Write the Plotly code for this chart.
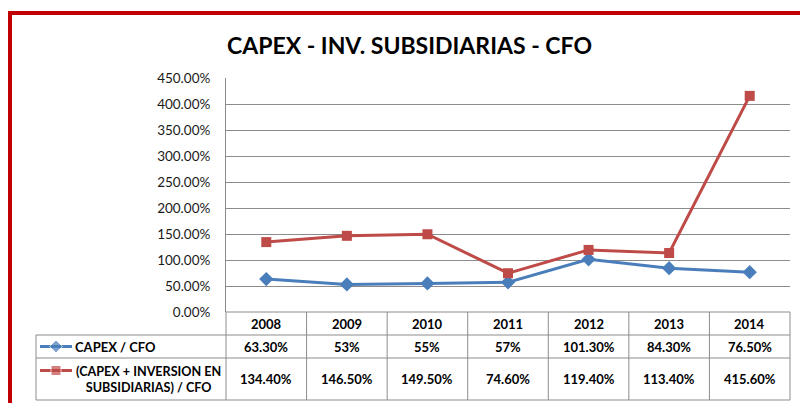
import plotly.graph_objects as go

years = ["2008", "2009", "2010", "2011", "2012", "2013", "2014"]
capex_cfo = [0.633, 0.53, 0.55, 0.57, 1.013, 0.843, 0.765]
capex_inv_cfo = [1.344, 1.465, 1.495, 0.746, 1.194, 1.134, 4.156]
capex_labels = ["63.30%", "53%", "55%", "57%", "101.30%", "84.30%", "76.50%"]
capex_inv_labels = ["134.40%", "146.50%", "149.50%", "74.60%", "119.40%", "113.40%", "415.60%"]

W, H = 800, 403
BLUE = "#4A7EBB"
RED = "#BE4B48"
GRID = "#8C8C8C"
FONT = "Lato"

# the page shows the figure 8px down and 387px tall, so map window pixels through that
TOP, HEFF = 8, 387

def px(x):
    return x / W

def py(y):
    return 1 - (y - TOP) / HEFF

# plot area in window pixels
L, R, T, B = 226, 790, 78, 312
row_top, row_mid, row_bot = 335, 358, 400

fig = go.Figure()

fig.add_trace(go.Scatter(
    x=years, y=capex_cfo, mode="lines+markers",
    line=dict(color=BLUE, width=3),
    marker=dict(symbol="diamond", size=11, color=BLUE),
    showlegend=False,
))
fig.add_trace(go.Scatter(
    x=years, y=capex_inv_cfo, mode="lines+markers",
    line=dict(color=RED, width=3),
    marker=dict(symbol="square", size=10, color=RED),
    showlegend=False,
))

# legend keys in the data table
for color, sym, yy in [(BLUE, "diamond", 346.5), (RED, "square", 370.5)]:
    fig.add_trace(go.Scatter(
        x=[0, 0.5, 1], y=[-yy] * 3, mode="lines+markers",
        line=dict(color=color, width=3),
        marker=dict(symbol=sym, size=[0, 10, 0], color=color),
        xaxis="x2", yaxis="y2", showlegend=False, hoverinfo="skip",
    ))

shapes = []
# red frame
shapes.append(dict(type="rect", xref="paper", yref="paper",
                   x0=px(10), x1=1.1, y0=-0.5, y1=py(13),
                   line=dict(color="#C00000", width=4)))
# table lines
def hline(x0, x1, y):
    shapes.append(dict(type="line", xref="paper", yref="paper",
                       x0=px(x0), x1=px(x1), y0=py(y), y1=py(y),
                       line=dict(color=GRID, width=1)))

def vline(x, y0, y1):
    shapes.append(dict(type="line", xref="paper", yref="paper",
                       x0=px(x), x1=px(x), y0=py(y0), y1=py(y1),
                       line=dict(color=GRID, width=1)))

hline(L, R, B)
for yy in [row_top, row_mid, row_bot]:
    hline(36, R, yy)
vline(36, row_top, row_bot)
colw = (R - L) / len(years)
for i in range(len(years) + 1):
    vline(L + i * colw, B, row_bot)

def note(text, x, y, xref="paper", size=13):
    return dict(text=text, x=x, y=y, xref=xref, yref="paper",
                xanchor="center", yanchor="middle", align="center",
                showarrow=False, font=dict(family=FONT, size=size, color="#000000"))

annotations = [note("<b>CAPEX - INV. SUBSIDIARIAS - CFO</b>", px(409), py(45), size=23)]
for i, yr in enumerate(years):
    for txt, yy in [(yr, 323.5), (capex_labels[i], 346.5), (capex_inv_labels[i], 379)]:
        annotations.append(note(f"<b>{txt}</b>", i, py(yy), xref="x"))
a = note("<b>CAPEX / CFO</b>", px(73), py(346.5))
a["xanchor"] = "left"
annotations.append(a)
annotations.append(note("<b>(CAPEX + INVERSION EN<br>SUBSIDIARIAS) / CFO</b>",
                        px(148), py(379), size=12.6))

fig.update_layout(
    width=W, height=H,
    margin=dict(l=0, r=0, t=0, b=0),
    paper_bgcolor="white", plot_bgcolor="white",
    font=dict(family=FONT, size=13, color="#000000"),
    xaxis=dict(domain=[px(L), px(R)], type="category", range=[-0.5, 6.5],
               showticklabels=False, showgrid=False, zeroline=False, fixedrange=True),
    yaxis=dict(domain=[py(B), py(T)], range=[0, 4.5], dtick=0.5, tickformat=".2%",
               showgrid=True, gridcolor=GRID, gridwidth=1, zeroline=False,
               showline=True, linecolor=GRID, linewidth=1,
               ticks="", ticklabelstandoff=12, tickfont=dict(size=13.5, color="#1a1a1a")),
    xaxis2=dict(domain=[px(40), px(72)], range=[0, 1], visible=False, anchor="y2"),
    yaxis2=dict(domain=[py(390), py(row_top)], range=[-390, -row_top],
                visible=False, anchor="x2"),
    shapes=shapes,
    annotations=annotations,
)

# drop the default page margin so the figure sits at the window's corner
fig.write_html("out.html", config={"displayModeBar": False},
               post_script="document.body.style.margin = '0';")
